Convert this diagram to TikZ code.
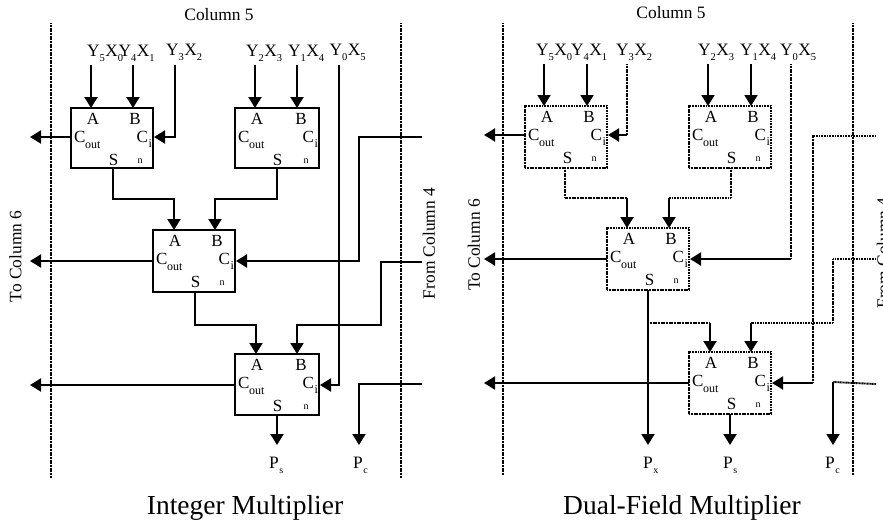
\documentclass[tikz,border=0pt]{standalone}
\usepackage{fontspec}
\setmainfont{Liberation Serif}
\usetikzlibrary{arrows.meta,calc}
\newcommand{\fsz}[1]{\fontsize{#1}{#1}\selectfont}
\tikzset{
  x=1pt,y=-1pt,
  wire/.style={line width=1.9pt,line cap=butt,line join=miter},
  dwire/.style={wire,dash pattern=on 1.1pt off 0.5pt},
  arw/.style={wire,-{Triangle[length=11pt,width=13pt]}},
  rail/.style={line width=1.6pt,dash pattern=on 1.1pt off 0.5pt},
  solidbox/.style={draw,wire},
  dotbox/.style={draw,dwire},
  lab/.style={inner sep=0pt,outer sep=0pt,anchor=base},
  pin/.style={lab,font=\fsz{17}},
  subpin/.style={lab,font=\fsz{12}},
  nlab/.style={lab,font=\fsz{10}},
  yx/.style={lab,anchor=base west,font=\fsz{17.4}},
  coltext/.style={lab,font=\fsz{17.4}},
  sidetext/.style={inner sep=0pt,outer sep=0pt,font=\fsz{17.4},rotate=90},
  caption/.style={lab,font=\fsz{27.5}},
  plabel/.style={lab,anchor=base west,font=\fsz{17.4}},
}
% #1 name #2 x #3 y #4 w #5 h #6 box style #7 port y #8 A offset #9 S offset
\newcommand{\fablock}[9]{%
  \begin{scope}[shift={(#2,#3)}]
    \node[#6,minimum width=#4pt,minimum height=#5pt,inner sep=0pt,outer sep=0pt,anchor=north west] (#1) at (0,0) {};
    \node[pin] (#1a) at (22,16.5) {A};
    \node[pin] (#1b) at (#4-18,16.5) {B};
    \node[pin,anchor=base west] (#1c) at (3,34.5) {C};
    \node[subpin,anchor=base west] (#1o) at (14,40) {out};
    \node[pin,anchor=base east] (#1d) at (#4-5,34.5) {C};
    \node[subpin,anchor=base east] (#1i) at (#4-1,39.5) {i};
    \node[pin] (#1s) at (42.5,57.5) {S};
    \node[nlab] (#1n) at (#4-13,55.5) {n};
    \coordinate (#1A) at (#8,0);
    \coordinate (#1B) at (62,0);
    \coordinate (#1S) at (#9,#5);
    \coordinate (#1O) at (0,#7);
    \coordinate (#1I) at (#4+1,#7);
  \end{scope}}
\newcommand{\yxlabel}[5]{\node[yx] (#1) at (#2,#3) {Y\raisebox{-5.5pt}{\fsz{10.5}#4}\kern0.5ptX\raisebox{-5.5pt}{\fsz{10.5}#5}};}
\newcommand{\plab}[4]{\node[plabel] (#1) at (#2,468) {P\kern0.8pt\raisebox{-5pt}{\fsz{10}#4}};}
\begin{document}
\begin{tikzpicture}
\useasboundingbox (0,0) rectangle (883,522);
\clip (0,0) rectangle (883,522);
\fill[white] (0,0) rectangle (883,522);
%% LEFT
\coordinate (lrl1) at (51,23); \coordinate (lrl2) at (51,478);
\coordinate (lrr1) at (401,23); \coordinate (lrr2) at (401,478);
\draw[rail] (lrl1) -- (lrl2);
\draw[rail] (lrr1) -- (lrr2);
\node[coltext] (lcol) at (219,20) {Column 5};
\node[sidetext] (lto) at (15.5,256.5) {To Column 6};
\node[sidetext] (lfrom) at (429,243.5) {From Column 4};
\node[caption] (lcap) at (245,514) {Integer Multiplier};
\yxlabel{ly5}{87}{56}{5}{0}
\yxlabel{ly4}{118.5}{56}{4}{1}
\yxlabel{ly3}{166}{55}{3}{2}
\yxlabel{ly2}{246}{56}{2}{3}
\yxlabel{ly1}{288}{56}{1}{4}
\yxlabel{ly0}{329.5}{55}{0}{5}
\fablock{la}{71}{108}{82}{60}{solidbox}{29}{20}{42}
\fablock{lb}{235}{108}{84}{60}{solidbox}{29}{20}{42}
\fablock{lc}{153}{230}{82}{62}{solidbox}{31}{21}{42}
\fablock{ld}{235}{354}{84}{61}{solidbox}{31}{21}{42}
\coordinate (ls5) at (91,65); \coordinate (ls4) at (133,65); \coordinate (ls3) at (175,65);
\coordinate (ls2) at (255,65); \coordinate (ls1) at (297,65); \coordinate (ls0) at (339,65);
\draw[arw] (ls5) -- (laA);
\draw[arw] (ls4) -- (laB);
\draw[arw] (ls3) |- (laI);
\draw[arw] (ls2) -- (lbA);
\draw[arw] (ls1) -- (lbB);
\draw[arw] (ls0) |- (ldI);
\coordinate (lt1) at (30,137); \coordinate (lt2) at (30,261); \coordinate (lt3) at (30,385);
\draw[arw] (laO) -- (lt1);
\draw[arw] (lcO) -- (lt2);
\draw[arw] (ldO) -- (lt3);
\coordinate (lm1) at (0,199); \coordinate (lm2) at (0,325);
\draw[arw] (laS) |- (lm1 -| lcA) -- (lcA);
\draw[arw] (lbS) |- (lm1 -| lcB) -- (lcB);
\draw[arw] (lcS) |- (lm2 -| ldA) -- (ldA);
\coordinate (lf1) at (422,137); \coordinate (lv1) at (359,137);
\draw[arw] (lf1) -- (lv1) |- (lcI);
\coordinate (lf2) at (422,262); \coordinate (lv2) at (381,262);
\draw[arw] (lf2) -- (lv2) |- (lm2 -| ldB) -- (ldB);
\coordinate (lf3) at (422,384); \coordinate (lv3) at (359,384); \coordinate (lpc) at (359,445);
\draw[arw] (lf3) -- (lv3) -- (lpc);
\coordinate (lps) at (277,445);
\draw[arw] (ldS) -- (lps);
\plab{lplabs}{269}{0}{s}
\plab{lplabc}{353}{0}{c}
%% RIGHT
\coordinate (rrl1) at (503,23); \coordinate (rrl2) at (503,475);
\coordinate (rrr1) at (853,23); \coordinate (rrr2) at (853,475);
\draw[rail] (rrl1) -- (rrl2);
\draw[rail] (rrr1) -- (rrr2);
\node[coltext] (rcol) at (671,18) {Column 5};
\node[sidetext] (rto) at (474,245) {To Column 6};
\node[sidetext] (rfrom) at (883,253) {From Column 4};
\node[caption] (rcap) at (682,514) {Dual-Field Multiplier};
\yxlabel{ry5}{536}{55}{5}{0}
\yxlabel{ry4}{571}{55}{4}{1}
\yxlabel{ry3}{616}{55}{3}{2}
\yxlabel{ry2}{698}{55}{2}{3}
\yxlabel{ry1}{740}{55}{1}{4}
\yxlabel{ry0}{780}{55}{0}{5}
\fablock{ra}{525}{106}{82}{62}{dotbox}{29}{19}{40}
\fablock{rb}{689}{106}{82}{62}{dotbox}{29}{19}{42}
\fablock{rc}{607}{228}{82}{62}{dotbox}{31}{20}{41}
\fablock{rd}{689}{352}{82}{62}{dotbox}{31}{21}{41}
\coordinate (rs5) at (544,64); \coordinate (rs4) at (587,64); \coordinate (rs3) at (627,64);
\coordinate (rs2) at (708,64); \coordinate (rs1) at (751,64); \coordinate (rs0) at (791,64);
\draw[arw] (rs5) -- (raA);
\draw[arw] (rs4) -- (raB);
\draw[arw] (rs2) -- (rbA);
\draw[arw] (rs1) -- (rbB);
\coordinate (rb3) at (627,135);
\draw[dwire] (rs3) -- (rb3);
\draw[arw] (rb3) -- (raI);
\coordinate (rb0) at (791,259);
\draw[dwire] (rs0) -- (rb0);
\draw[arw] (rb0) -- (rcI);
\coordinate (rt1) at (484,135); \coordinate (rt2) at (484,259); \coordinate (rt3) at (484,383);
\draw[arw] (raO) -- (rt1);
\draw[arw] (rcO) -- (rt2);
\draw[arw] (rdO) -- (rt3);
\coordinate (rm1) at (0,198); \coordinate (rm2) at (0,323);
\draw[dwire] (raS) |- (rm1 -| rcA);
\draw[arw] (rm1 -| rcA) -- (rcA);
\draw[dwire] (rbS) |- (rm1 -| rcB);
\draw[arw] (rm1 -| rcB) -- (rcB);
\coordinate (rpx) at (648,445);
\draw[arw] (rcS) -- (rpx);
\coordinate (rj) at (648,323);
\draw[dwire] (rj) -- (rm2 -| rdA);
\draw[arw] (rm2 -| rdA) -- (rdA);
\coordinate (rf1) at (876,136); \coordinate (rv1) at (813,136); \coordinate (rv1b) at (813,383);
\draw[dwire] (rf1) -- (rv1) -- (rv1b);
\draw[arw] (rv1b) -- (rdI);
\coordinate (rf2) at (876,259); \coordinate (rv2) at (833,259);
\draw[dwire] (rf2) -- (rv2) |- (rm2 -| rdB);
\draw[arw] (rm2 -| rdB) -- (rdB);
\coordinate (rf3) at (876,384); \coordinate (rv3) at (833,382); \coordinate (rpc) at (833,445);
\draw[dwire] (rf3) -- (rv3);
\draw[arw] (rv3) -- (rpc);
\coordinate (rps) at (730,445);
\draw[arw] (rdS) -- (rps);
\plab{rplabx}{643}{0}{x}
\plab{rplabs}{723}{0}{s}
\plab{rplabc}{825}{0}{c}
\end{tikzpicture}
\end{document}
